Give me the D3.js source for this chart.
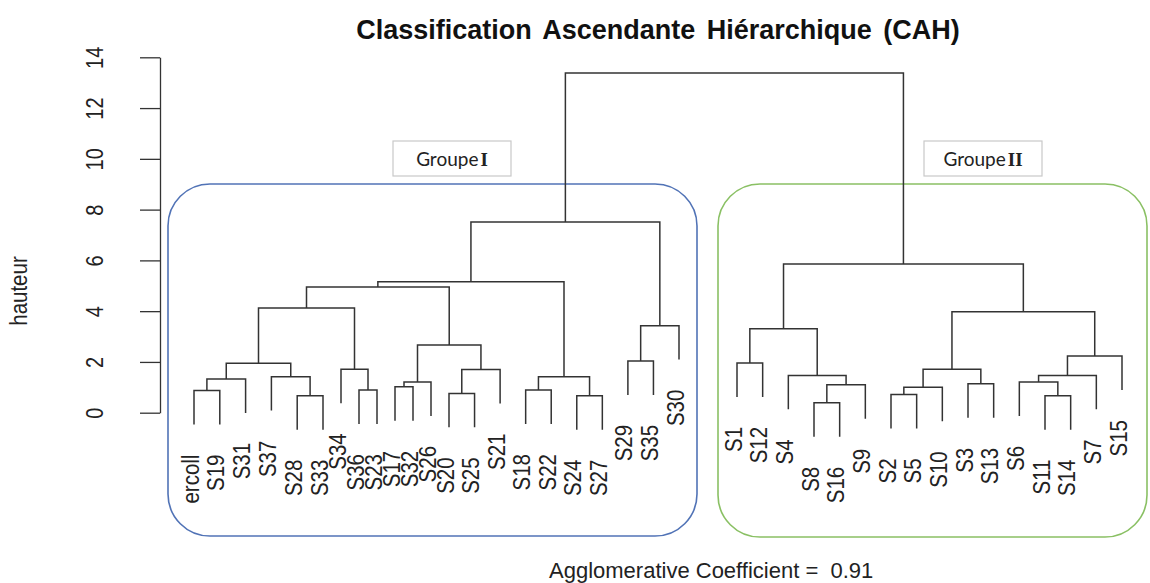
<!DOCTYPE html>
<html>
<head>
<meta charset="utf-8">
<script src="https://cdn.jsdelivr.net/npm/d3@7"></script>
<style>
  body { margin: 0; background: #fff; }
  svg { display: block; font-family: Arial, "Liberation Sans", sans-serif; }
</style>
</head>
<body>
<svg id="chart" width="1150" height="583"></svg>
<script>
// leaf order as drawn, left to right
const leaves = ['ercoll', 'S19', 'S31', 'S37', 'S28', 'S33', 'S34', 'S36', 'S23', 'S17', 'S32',
  'S26', 'S20', 'S25', 'S21', 'S18', 'S22', 'S24', 'S27', 'S29', 'S35', 'S30',
  'S1', 'S12', 'S4', 'S8', 'S16', 'S9', 'S2', 'S5', 'S10', 'S3', 'S13', 'S6', 'S11', 'S14', 'S7', 'S15'];

// merges: children are leaf names or earlier merges ("m" + index)
const merges = [
  ['ercoll', 'S19'], ['m0', 'S31'], ['S28', 'S33'], ['S37', 'm2'], ['m1', 'm3'],
  ['S36', 'S23'], ['S34', 'm5'], ['m4', 'm6'], ['S17', 'S32'], ['m8', 'S26'],
  ['S20', 'S25'], ['m10', 'S21'], ['m9', 'm11'], ['m7', 'm12'], ['S18', 'S22'],
  ['S24', 'S27'], ['m14', 'm15'], ['m13', 'm16'], ['S29', 'S35'], ['m18', 'S30'],
  ['m17', 'm19'],
  ['S1', 'S12'], ['S8', 'S16'], ['m22', 'S9'], ['S4', 'm23'], ['m21', 'm24'],
  ['S2', 'S5'], ['m26', 'S10'], ['S3', 'S13'], ['m27', 'm28'], ['S11', 'S14'],
  ['S6', 'm30'], ['m31', 'S7'], ['m32', 'S15'], ['m29', 'm33'], ['m25', 'm34'],
  ['m20', 'm35']
];
const heights = [
  0.87, 1.33, 0.67, 1.42, 1.95,
  0.89, 1.71, 4.12, 1.02, 1.21,
  0.76, 1.70, 2.67, 4.95, 0.89,
  0.67, 1.42, 5.16, 2.04, 3.43,
  7.51,
  1.96, 0.39, 1.10, 1.47, 3.31,
  0.72, 1.00, 1.14, 1.71, 0.67,
  1.21, 1.47, 2.23, 3.98, 5.86,
  13.38
];
const yTicks = [0, 2, 4, 6, 8, 10, 12, 14];
const groupNames = ['I', 'II'];
const coefText = 'Agglomerative Coefficient =  0.91';

const svg = d3.select('#chart');
const hang = 0.1 * d3.max(heights);

// leaf index -> x, spacing is a bit uneven in the original picture
const x = d3.scaleLinear()
  .domain([0, 5, 12, 21, 22, 37])
  .range([194, 323, 449, 679, 737, 1122]);
const y = d3.scaleLinear().domain([0, 14]).range([412.7, 57.3]);

// group boxes
const boxes = [
  { x: 168, y: 184, w: 529, h: 352, color: '#5173b6', lx: 393, lw: 118 },
  { x: 718, y: 184, w: 429, h: 353, color: '#8ac064', lx: 924, lw: 118 }
];
svg.append('g').selectAll('rect')
  .data(boxes)
  .enter()
  .append('rect')
  .attr('x', d => d.x).attr('y', d => d.y)
  .attr('width', d => d.w).attr('height', d => d.h)
  .attr('rx', 42).attr('ry', 42)
  .attr('fill', 'none')
  .attr('stroke', d => d.color)
  .attr('stroke-width', 1.6);

const labelBoxes = svg.append('g').selectAll('g')
  .data(boxes)
  .enter()
  .append('g');
labelBoxes.append('rect')
  .attr('x', d => d.lx).attr('y', 141)
  .attr('width', d => d.lw).attr('height', 35)
  .attr('fill', '#fff')
  .attr('stroke', '#c9c9c9')
  .attr('stroke-width', 1.2);
const gtext = labelBoxes.append('text')
  .attr('x', d => d.lx + d.lw / 2)
  .attr('y', 166)
  .attr('text-anchor', 'middle')
  .attr('fill', '#222');
gtext.append('tspan')
  .style('font-family', 'Lato, "Open Sans", sans-serif')
  .style('font-size', '19px')
  .text('Groupe');
gtext.append('tspan')
  .style('font-family', '"Liberation Serif", "DejaVu Serif", serif')
  .style('font-weight', 'bold')
  .style('font-size', '19px')
  .attr('dx', 2)
  .text((d, i) => groupNames[i]);

// y axis
const axis = svg.append('g')
  .attr('transform', 'translate(160,0)')
  .call(d3.axisLeft(y).tickValues(yTicks).tickSize(20).tickSizeOuter(0))
  .attr('font-size', null)
  .attr('font-family', null);
axis.selectAll('path, line').attr('stroke', '#333').attr('stroke-width', 1.3);
axis.selectAll('.tick text')
  .attr('x', 0)
  .attr('dy', 0)
  .attr('text-anchor', 'middle')
  .attr('transform', 'translate(-57,0) scale(1.2,1) rotate(-90)')
  .style('font-size', '20px')
  .attr('fill', '#222');

svg.append('text')
  .attr('transform', 'translate(27,291) scale(1.2,1) rotate(-90)')
  .attr('text-anchor', 'middle')
  .style('font-size', '20.5px')
  .attr('fill', '#222')
  .text('hauteur');

// dendrogram
const pos = {};
leaves.forEach((name, i) => { pos[name] = { x: x(i), h: null }; });
const segs = [];
const leafBottom = {};
merges.forEach((m, i) => {
  const a = pos[m[0]], b = pos[m[1]];
  const h = heights[i];
  const ya = a.h === null ? y(h - hang) : y(a.h);
  const yb = b.h === null ? y(h - hang) : y(b.h);
  if (a.h === null) leafBottom[m[0]] = h - hang;
  if (b.h === null) leafBottom[m[1]] = h - hang;
  segs.push({ x1: a.x, y1: ya, x2: b.x, y2: yb, ym: y(h) });
  pos['m' + i] = { x: (a.x + b.x) / 2, h: h };
});

svg.append('g')
  .selectAll('path')
  .data(segs)
  .enter()
  .append('path')
  .attr('d', d => `M${d.x1},${d.y1}V${d.ym}H${d.x2}V${d.y2}`)
  .attr('fill', 'none')
  .attr('stroke', '#333')
  .attr('stroke-width', 1.5);

// leaf labels
svg.append('g')
  .selectAll('text')
  .data(leaves)
  .enter()
  .append('text')
  .attr('transform', (d, i) => `translate(${x(i) + 4.5},${y(leafBottom[d]) + 30}) scale(1.2,1) rotate(-90)`)
  .attr('text-anchor', 'end')
  .style('font-size', '20.5px')
  .attr('fill', '#222')
  .text(d => d);

// title and coefficient
svg.append('text')
  .attr('x', 658)
  .attr('y', 39)
  .attr('text-anchor', 'middle')
  .style('font-size', '27px')
  .style('font-weight', 'bold')
  .style('word-spacing', '4px')
  .attr('fill', '#111')
  .text('Classification Ascendante Hiérarchique (CAH)');

svg.append('text')
  .attr('x', 549)
  .attr('y', 578)
  .style('font-size', '22px')
  .style('white-space', 'pre')
  .attr('fill', '#222')
  .text(coefText);
</script>
</body>
</html>
